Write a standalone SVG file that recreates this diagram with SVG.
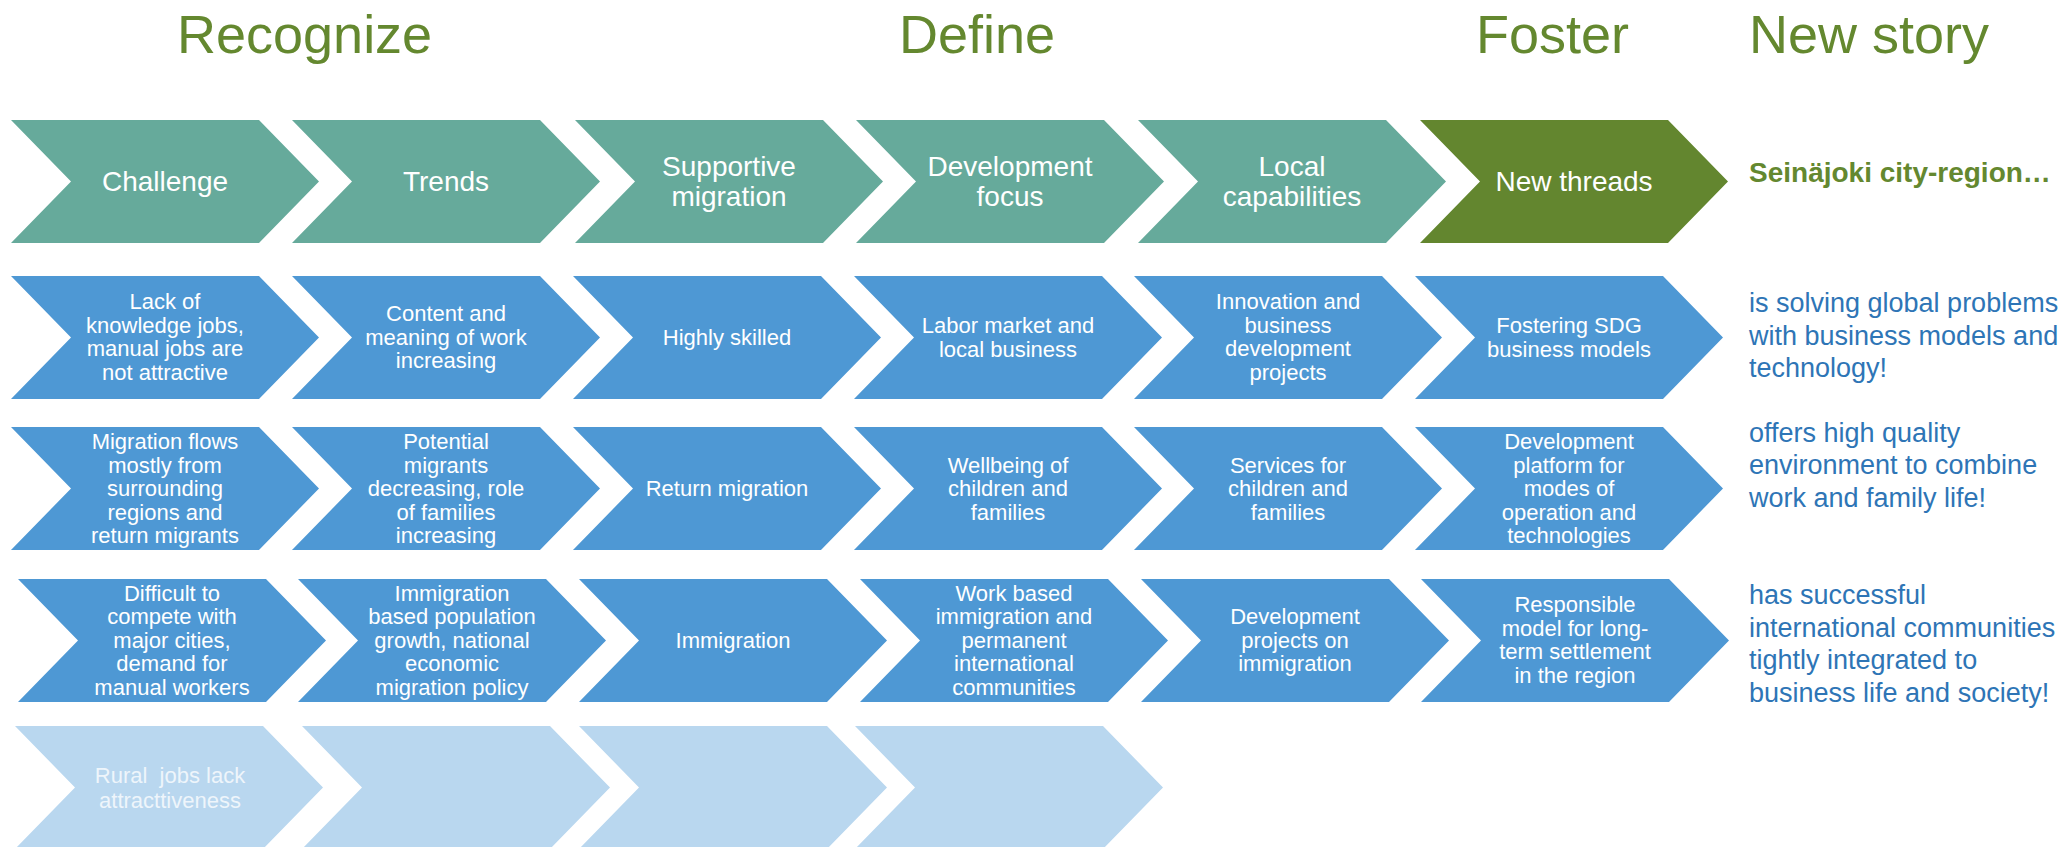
<svg xmlns="http://www.w3.org/2000/svg" xmlns:xlink="http://www.w3.org/1999/xlink" width="2068" height="847" viewBox="0 0 2068 847">
<style>
.title{font-family:"Liberation Sans",Arial,sans-serif;font-size:54px;fill:#64882F}
.h{font-family:"Liberation Sans",Arial,sans-serif;font-size:28px;fill:#fff;text-anchor:middle}
.t{font-family:"Liberation Sans",Arial,sans-serif;font-size:22px;fill:#fff;text-anchor:middle}
.tl{fill:#EEF5FB}
.r{font-family:"Liberation Sans",Arial,sans-serif;font-size:27px;fill:#2E75B6}
.rb{font-family:"Liberation Sans",Arial,sans-serif;font-size:28px;font-weight:bold;fill:#64882F}
.teal{fill:#66AA9B}
.green{fill:#63862F}
.blue{fill:#4E98D4}
.light{fill:#B9D7EF}
</style>
<defs>
<path id="chev" d="M0,0 H248 L308,61.5 L248,123 H0 L60,61.5 Z"/>
</defs>
<rect width="2068" height="847" fill="#fff"/>
<g id="titles">
<text class="title" x="177" y="53">Recognize</text>
<text class="title" x="899" y="53">Define</text>
<text class="title" x="1476" y="53">Foster</text>
<text class="title" x="1749" y="53">New story</text>
</g>
<g id="connectors"></g>
<!-- Row 1 -->
<g id="r1c1"><use xlink:href="#chev" href="#chev" class="teal" x="11" y="120"/><text class="h" x="165" y="191">Challenge</text></g>
<g id="r1c2"><use xlink:href="#chev" href="#chev" class="teal" x="292" y="120"/><text class="h" x="446" y="191">Trends</text></g>
<g id="r1c3"><use xlink:href="#chev" href="#chev" class="teal" x="575" y="120"/><text class="h" x="729" y="176">Supportive</text><text class="h" x="729" y="206">migration</text></g>
<g id="r1c4"><use xlink:href="#chev" href="#chev" class="teal" x="856" y="120"/><text class="h" x="1010" y="176">Development</text><text class="h" x="1010" y="206">focus</text></g>
<g id="r1c5"><use xlink:href="#chev" href="#chev" class="teal" x="1138" y="120"/><text class="h" x="1292" y="176">Local</text><text class="h" x="1292" y="206">capabilities</text></g>
<g id="r1c6"><use xlink:href="#chev" href="#chev" class="green" x="1420" y="120"/><text class="h" x="1574" y="191">New threads</text></g>
<!-- Row 2 -->
<g id="r2c1"><use xlink:href="#chev" href="#chev" class="blue" x="11" y="276"/>
<text class="t" x="165" y="309">Lack of</text><text class="t" x="165" y="332.5">knowledge jobs,</text><text class="t" x="165" y="356">manual jobs are</text><text class="t" x="165" y="379.5">not attractive</text></g>
<g id="r2c2"><use xlink:href="#chev" href="#chev" class="blue" x="292" y="276"/>
<text class="t" x="446" y="321">Content and</text><text class="t" x="446" y="344.5">meaning of work</text><text class="t" x="446" y="368">increasing</text></g>
<g id="r2c3"><use xlink:href="#chev" href="#chev" class="blue" x="573" y="276"/>
<text class="t" x="727" y="344.5">Highly skilled</text></g>
<g id="r2c4"><use xlink:href="#chev" href="#chev" class="blue" x="854" y="276"/>
<text class="t" x="1008" y="333">Labor market and</text><text class="t" x="1008" y="356.5">local business</text></g>
<g id="r2c5"><use xlink:href="#chev" href="#chev" class="blue" x="1134" y="276"/>
<text class="t" x="1288" y="309">Innovation and</text><text class="t" x="1288" y="332.5">business</text><text class="t" x="1288" y="356">development</text><text class="t" x="1288" y="379.5">projects</text></g>
<g id="r2c6"><use xlink:href="#chev" href="#chev" class="blue" x="1415" y="276"/>
<text class="t" x="1569" y="333">Fostering SDG</text><text class="t" x="1569" y="356.5">business models</text></g>
<!-- Row 3 -->
<g id="r3c1"><use xlink:href="#chev" href="#chev" class="blue" x="11" y="427"/>
<text class="t" x="165" y="449">Migration flows</text><text class="t" x="165" y="472.5">mostly from</text><text class="t" x="165" y="496">surrounding</text><text class="t" x="165" y="519.5">regions and</text><text class="t" x="165" y="543">return migrants</text></g>
<g id="r3c2"><use xlink:href="#chev" href="#chev" class="blue" x="292" y="427"/>
<text class="t" x="446" y="449">Potential</text><text class="t" x="446" y="472.5">migrants</text><text class="t" x="446" y="496">decreasing, role</text><text class="t" x="446" y="519.5">of families</text><text class="t" x="446" y="543">increasing</text></g>
<g id="r3c3"><use xlink:href="#chev" href="#chev" class="blue" x="573" y="427"/>
<text class="t" x="727" y="496">Return migration</text></g>
<g id="r3c4"><use xlink:href="#chev" href="#chev" class="blue" x="854" y="427"/>
<text class="t" x="1008" y="472.5">Wellbeing of</text><text class="t" x="1008" y="496">children and</text><text class="t" x="1008" y="519.5">families</text></g>
<g id="r3c5"><use xlink:href="#chev" href="#chev" class="blue" x="1134" y="427"/>
<text class="t" x="1288" y="472.5">Services for</text><text class="t" x="1288" y="496">children and</text><text class="t" x="1288" y="519.5">families</text></g>
<g id="r3c6"><use xlink:href="#chev" href="#chev" class="blue" x="1415" y="427"/>
<text class="t" x="1569" y="449">Development</text><text class="t" x="1569" y="472.5">platform for</text><text class="t" x="1569" y="496">modes of</text><text class="t" x="1569" y="519.5">operation and</text><text class="t" x="1569" y="543">technologies</text></g>
<!-- Row 4 -->
<g id="r4c1"><use xlink:href="#chev" href="#chev" class="blue" x="18" y="579"/>
<text class="t" x="172" y="600.5">Difficult to</text><text class="t" x="172" y="624">compete with</text><text class="t" x="172" y="647.5">major cities,</text><text class="t" x="172" y="671">demand for</text><text class="t" x="172" y="694.5">manual workers</text></g>
<g id="r4c2"><use xlink:href="#chev" href="#chev" class="blue" x="298" y="579"/>
<text class="t" x="452" y="600.5">Immigration</text><text class="t" x="452" y="624">based population</text><text class="t" x="452" y="647.5">growth, national</text><text class="t" x="452" y="671">economic</text><text class="t" x="452" y="694.5">migration policy</text></g>
<g id="r4c3"><use xlink:href="#chev" href="#chev" class="blue" x="579" y="579"/>
<text class="t" x="733" y="647.5">Immigration</text></g>
<g id="r4c4"><use xlink:href="#chev" href="#chev" class="blue" x="860" y="579"/>
<text class="t" x="1014" y="600.5">Work based</text><text class="t" x="1014" y="624">immigration and</text><text class="t" x="1014" y="647.5">permanent</text><text class="t" x="1014" y="671">international</text><text class="t" x="1014" y="694.5">communities</text></g>
<g id="r4c5"><use xlink:href="#chev" href="#chev" class="blue" x="1141" y="579"/>
<text class="t" x="1295" y="624">Development</text><text class="t" x="1295" y="647.5">projects on</text><text class="t" x="1295" y="671">immigration</text></g>
<g id="r4c6"><use xlink:href="#chev" href="#chev" class="blue" x="1421" y="579"/>
<text class="t" x="1575" y="612">Responsible</text><text class="t" x="1575" y="635.5">model for long-</text><text class="t" x="1575" y="659">term settlement</text><text class="t" x="1575" y="682.5">in the region</text></g>
<!-- Row 5 -->
<g id="r5c1"><use xlink:href="#chev" href="#chev" class="light" x="15" y="726"/>
<text class="t tl" x="170" y="783" xml:space="preserve">Rural  jobs lack</text><text class="t tl" x="170" y="808">attracttiveness</text></g>
<g id="r5c2"><use xlink:href="#chev" href="#chev" class="light" x="302" y="726"/></g>
<g id="r5c3"><use xlink:href="#chev" href="#chev" class="light" x="579" y="726"/></g>
<g id="r5c4"><use xlink:href="#chev" href="#chev" class="light" x="855" y="726"/></g>
<!-- New story texts -->
<g id="story">
<text class="rb" x="1749" y="182">Seinäjoki city-region…</text>
<text class="r" x="1749" y="312">is solving global problems</text>
<text class="r" x="1749" y="345">with business models and</text>
<text class="r" x="1749" y="377">technology!</text>
<text class="r" x="1749" y="442">offers high quality</text>
<text class="r" x="1749" y="474">environment to combine</text>
<text class="r" x="1749" y="507">work and family life!</text>
<text class="r" x="1749" y="604">has successful</text>
<text class="r" x="1749" y="637">international communities</text>
<text class="r" x="1749" y="669">tightly integrated to</text>
<text class="r" x="1749" y="702">business life and society!</text>
</g>
</svg>
